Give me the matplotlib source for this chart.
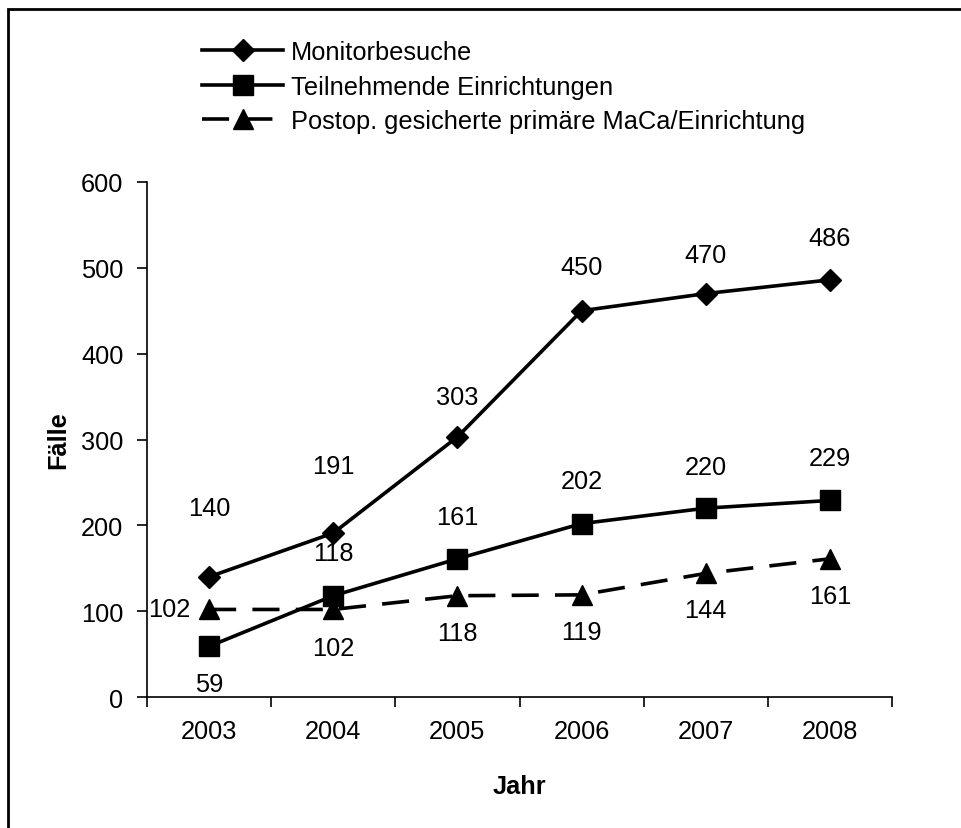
import matplotlib.pyplot as plt
from matplotlib.patches import Rectangle

plt.rcParams['font.family'] = ['Liberation Sans', 'DejaVu Sans']

# Daten
jahre = ["2003", "2004", "2005", "2006", "2007", "2008"]
monitorbesuche = [140, 191, 303, 450, 470, 486]
einrichtungen = [59, 118, 161, 202, 220, 229]
maca = [102, 102, 118, 119, 144, 161]

# Versatz der Beschriftungen (Pixel: dx, dy)
off_monitor = [(0, 69), (0, 67), (0, 40), (0, 44), (0, 39), (0, 42)]
off_einr = [(0, -38), (0, 43), (0, 42), (0, 43), (0, 41), (0, 42)]
off_maca = [(-40, 0), (0, -39), (0, -37), (0, -37), (0, -37), (0, -37)]

fig = plt.figure(figsize=(9.62, 8.29), dpi=100)
ax = fig.add_axes([147 / 962, 1 - 698 / 829, 745 / 962, 515 / 829])

x = range(len(jahre))
fs = 18.3

l1, = ax.plot(x, monitorbesuche, color='black', lw=2.6, marker='D', ms=11,
              label='Monitorbesuche')
l2, = ax.plot(x, einrichtungen, color='black', lw=2.6, marker='s', ms=14,
              label='Teilnehmende Einrichtungen')
l3, = ax.plot(x, maca, color='black', lw=2.6, marker='^', ms=15, ls='--',
              label='Postop. gesicherte primäre MaCa/Einrichtung')
l3.set_dashes((7.5, 4.5))

for werte, offs in [(monitorbesuche, off_monitor), (einrichtungen, off_einr), (maca, off_maca)]:
    for i, (v, (dx, dy)) in enumerate(zip(werte, offs)):
        ax.annotate(str(v), (i, v), xytext=(dx, dy), textcoords='offset pixels',
                    ha='center', va='center', fontsize=fs)

ax.set_xlim(-0.5, len(jahre) - 0.5)
ax.set_ylim(0, 600)
ax.set_xticks(list(x))
ax.set_xticklabels(jahre, fontsize=fs)
ax.set_xticks([i - 0.5 for i in range(len(jahre) + 1)], minor=True)
ax.tick_params(axis='x', which='major', length=0, pad=16)
ax.tick_params(axis='x', which='minor', length=7, width=1.2, direction='out')
ax.set_yticks(range(0, 601, 100))
ax.tick_params(axis='y', labelsize=fs, length=7, width=1.2, pad=10)

for s in ['top', 'right']:
    ax.spines[s].set_visible(False)
for s in ['left', 'bottom']:
    ax.spines[s].set_linewidth(1.2)

ax.set_xlabel('Jahr', fontsize=fs, fontweight='bold', labelpad=22)
ax.set_ylabel('Fälle', fontsize=fs, fontweight='bold', labelpad=8)

fig.legend(handles=[l1, l2, l3], loc='upper left',
           bbox_to_anchor=(202 / 962, 1 - 41 / 829), frameon=False,
           fontsize=fs, handlelength=3.2, handletextpad=0.3,
           labelspacing=0.42, borderpad=0, borderaxespad=0)

# Rahmen um die Grafik
fig.patches.append(Rectangle((8 / 962, -0.1), 1.2, 1.1 - 10 / 829,
                             transform=fig.transFigure, fill=False,
                             edgecolor='black', lw=2))

fig.savefig('out.png', dpi=100)
